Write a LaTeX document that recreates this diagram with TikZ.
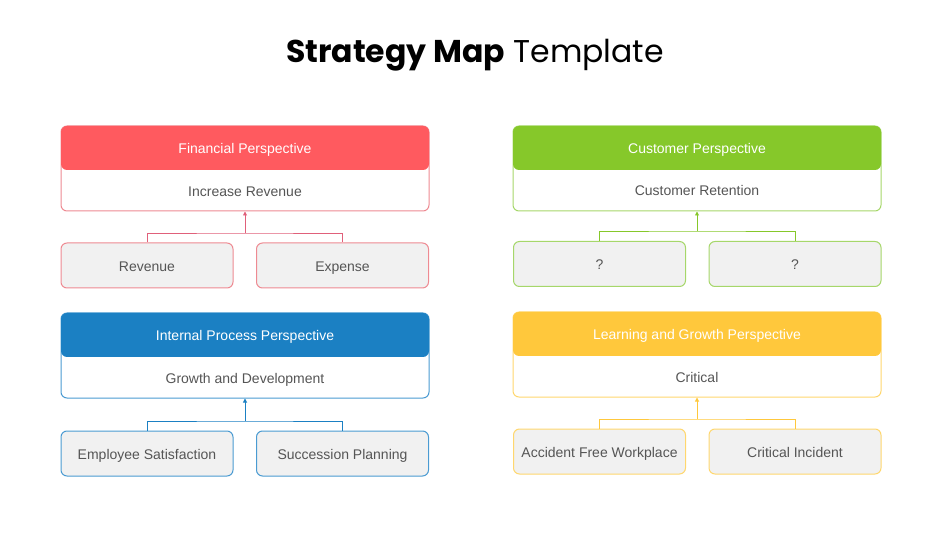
\documentclass[tikz,border=0pt]{standalone}
\usepackage{fontspec}
\setmainfont{Liberation Sans}
\newfontfamily\titlefont{Poppins}
\usetikzlibrary{arrows.meta}
\definecolor{cred}{HTML}{FF5A5F}
\definecolor{cgreen}{HTML}{86C82A}
\definecolor{cblue}{HTML}{1B80C3}
\definecolor{cyellow}{HTML}{FFC83C}
\definecolor{bred}{HTML}{EE8A92}
\definecolor{bgreen}{HTML}{A6D76A}
\definecolor{bblue}{HTML}{4A9BD2}
\definecolor{byellow}{HTML}{FFD76E}
\definecolor{lred}{HTML}{E0607A}
\definecolor{txt}{HTML}{555555}
\definecolor{boxfill}{HTML}{F1F1F1}
\tikzset{
  txtfont/.style={font=\fontsize{14}{16}\selectfont, text height=12pt, text depth=0.5pt},
  outerbox/.style={draw, line width=1pt, rounded corners=6pt, fill=white, minimum width=368pt, minimum height=85pt, inner sep=0pt},
  headbox/.style={rounded corners=6pt, minimum width=368pt, minimum height=44pt, inner sep=0pt, text=white, txtfont},
  bodytext/.style={text=txt, txtfont, inner sep=0pt},
  smallbox/.style={draw, line width=1pt, rounded corners=6pt, fill=boxfill, minimum width=172pt, minimum height=45pt, inner sep=0pt, text=txt, txtfont},
  conn/.style={line width=0.9pt},
  arr/.style={conn, -{Triangle[length=4pt,width=4pt]}}
}
\begin{document}
\begin{tikzpicture}[x=1pt,y=-1pt]
\useasboundingbox (0,0) rectangle (950,534);
\node[inner sep=0pt, anchor=base, font=\titlefont\fontsize{31.5}{36}\selectfont] (title) at (475,63) {\textbf{Strategy Map} Template};

% Financial
\node[outerbox, draw=bred] (fin) at (245,168.5) {};
\node[headbox, fill=cred] (finH) at (245,148) {Financial Perspective};
\node[bodytext] (finB) at (245,190.5) {Increase Revenue};
\node[smallbox, draw=bred] (rev) at (147,265.5) {Revenue};
\node[smallbox, draw=bred] (exp) at (342.5,265.5) {Expense};
\coordinate (finJ) at (245,233);
\draw[conn, draw=lred] (rev.north) |- (finJ) -| (exp.north);
\draw[arr, draw=lred, fill=lred] (finJ) -- (fin.south);

% Internal
\node[outerbox, draw=bblue] (int) at (245,355.5) {};
\node[headbox, fill=cblue] (intH) at (245,335) {Internal Process Perspective};
\node[bodytext] (intB) at (245,377.5) {Growth and Development};
\node[smallbox, draw=bblue] (emp) at (147,453.5) {Employee Satisfaction};
\node[smallbox, draw=bblue] (suc) at (342.5,453.5) {Succession Planning};
\coordinate (intJ) at (245,421);
\draw[conn, draw=cblue] (emp.north) |- (intJ) -| (suc.north);
\draw[arr, draw=cblue, fill=cblue] (intJ) -- (int.south);

% Customer
\node[outerbox, draw=bgreen] (cus) at (697,168.5) {};
\node[headbox, fill=cgreen] (cusH) at (697,148) {Customer Perspective};
\node[bodytext] (cusB) at (697,190) {Customer Retention};
\node[smallbox, draw=bgreen] (q1) at (599.5,264) {?};
\node[smallbox, draw=bgreen] (q2) at (795,264) {?};
\coordinate (cusJ) at (697,231);
\draw[conn, draw=cgreen] (q1.north) |- (cusJ) -| (q2.north);
\draw[arr, draw=cgreen, fill=cgreen] (cusJ) -- (cus.south);

% Learning
\node[outerbox, draw=byellow] (lea) at (697,354.5) {};
\node[headbox, fill=cyellow] (leaH) at (697,334) {Learning and Growth Perspective};
\node[bodytext] (leaB) at (697,376.5) {Critical};
\node[smallbox, draw=byellow] (acc) at (599.5,451.5) {Accident Free Workplace};
\node[smallbox, draw=byellow] (cri) at (795,451.5) {Critical Incident};
\coordinate (leaJ) at (697,419);
\draw[conn, draw=cyellow] (acc.north) |- (leaJ) -| (cri.north);
\draw[arr, draw=cyellow, fill=cyellow] (leaJ) -- (lea.south);
\end{tikzpicture}
\end{document}
